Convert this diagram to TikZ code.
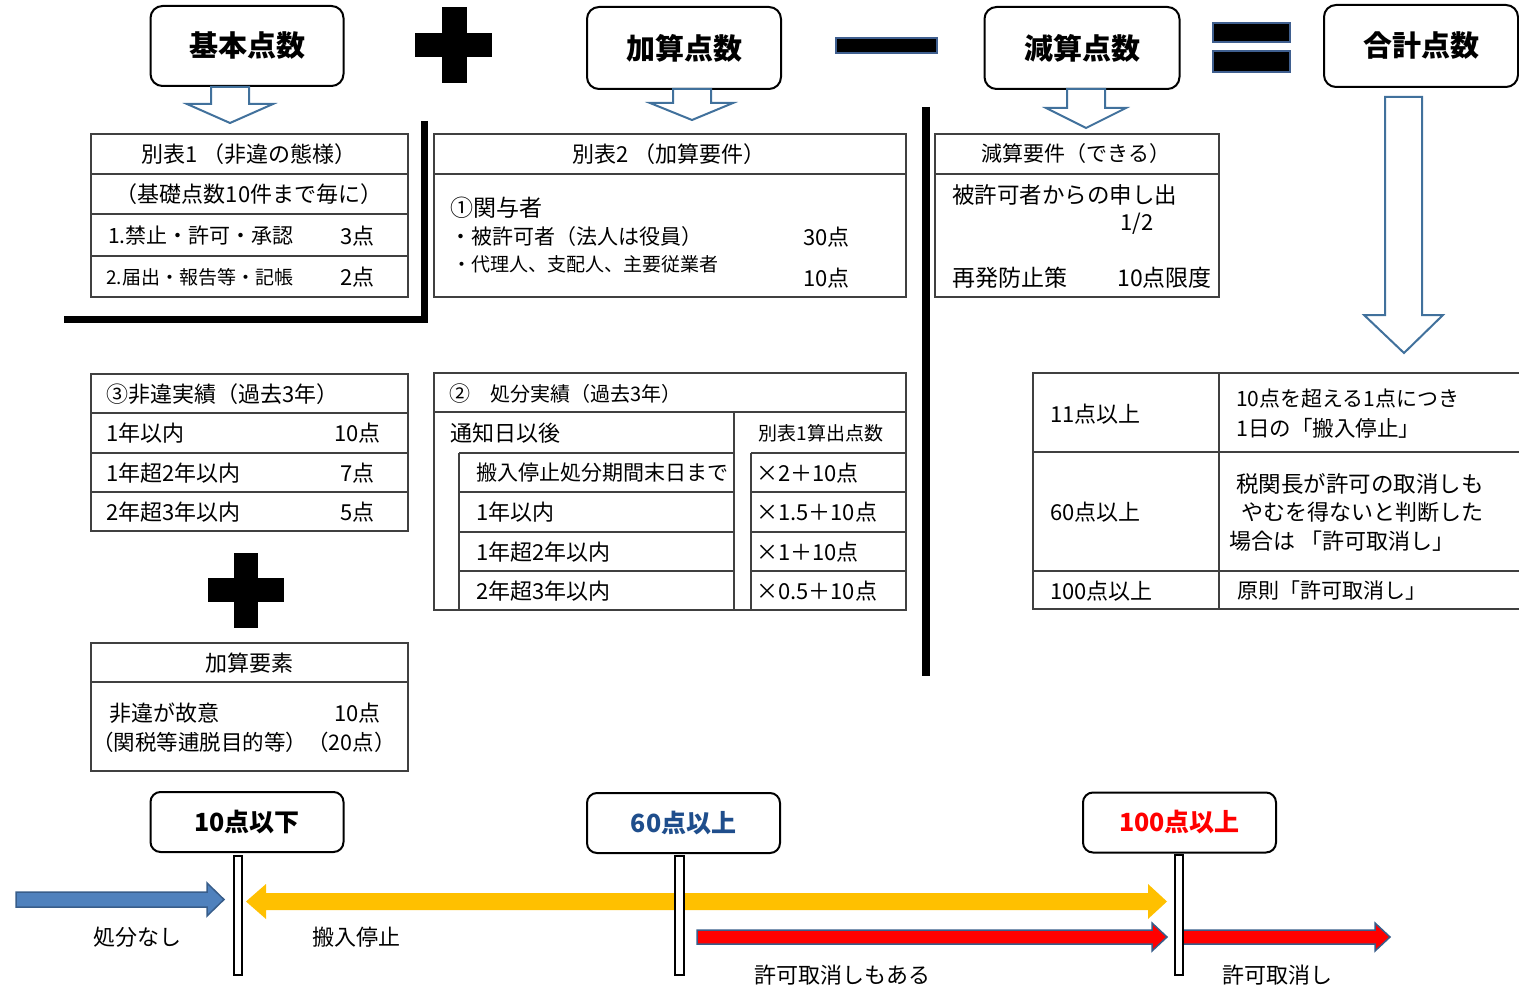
\documentclass[tikz,border=0pt]{standalone}
\usepackage{fontspec}
\setmainfont{Noto Sans CJK JP}
\definecolor{arrowblue}{HTML}{41719C}
\definecolor{boxblue}{HTML}{4F81BD}
\definecolor{boxblueedge}{HTML}{385D8A}
\definecolor{gold}{HTML}{FFC000}
\definecolor{navytext}{HTML}{1F4E8C}
\definecolor{signedge}{HTML}{3F5F8F}
\definecolor{tline}{HTML}{404040}
\newcommand{\fs}[1]{\fontsize{#1}{#1}\selectfont}
\begin{document}
\begin{tikzpicture}[x=1pt,y=-1pt,
  title/.style={draw=black, line width=2pt, rounded corners=12pt, fill=white,
    minimum width=193pt, minimum height=80pt, inner sep=0pt,
    font=\fs{29}\bfseries},
  mark box/.style={draw=black, line width=2pt, rounded corners=10pt, fill=white,
    minimum width=193pt, minimum height=60pt, inner sep=0pt,
    font=\fs{25}\bfseries},
  hollow/.style={draw=arrowblue, line width=2pt, fill=white, line join=miter},
  tab/.style={draw=tline, line width=1.5pt},
  txt/.style={font=\fs{22}, inner sep=0pt, anchor=west},
  rtxt/.style={font=\fs{22}, inner sep=0pt, anchor=east},
  ctxt/.style={font=\fs{22}, inner sep=0pt},
  pole/.style={draw=black, line width=1.5pt, fill=white},
  sign/.style={fill=black},
]
\useasboundingbox (0,0) rectangle (1519,987);

% ---------- top title boxes ----------
\node[title] (kihon) at (247,46) {基本点数};
\node[title, minimum height=82pt, minimum width=194pt] (kasan) at (684,48) {加算点数};
\node[title, minimum height=82pt, minimum width=195pt] (gensan) at (1082,48) {減算点数};
\node[title, minimum height=82pt, minimum width=194pt] (goukei) at (1421,46) {合計点数};

% operators
\fill[sign] (442,7) rectangle (467,83);
\fill[sign] (415,33) rectangle (492,57);
\filldraw[fill=black, draw=signedge, line width=1.5pt] (836,38) rectangle (937,53);
\filldraw[fill=black, draw=signedge, line width=1.5pt] (1213,23) rectangle (1290,42);
\filldraw[fill=black, draw=signedge, line width=1.5pt] (1213,51) rectangle (1290,72);

% hollow arrows
\draw[hollow] (211,87) -- (211,104) -- (187,104) -- (230,123) -- (273,104) -- (249,104) -- (249,87) -- cycle;
\draw[hollow] (673,89) -- (673,103) -- (650,103) -- (692,120) -- (733,103) -- (711,103) -- (711,89) -- cycle;
\draw[hollow] (1067,89) -- (1067,108) -- (1046,108) -- (1086,128) -- (1126,108) -- (1105,108) -- (1105,89) -- cycle;
\draw[hollow] (1385,97) -- (1385,315) -- (1364,315) -- (1404,353) -- (1443,315) -- (1422,315) -- (1422,97) -- cycle;

% thick separators
\draw[line width=7pt, line join=miter] (424.5,121) -- (424.5,319) -- (64,319);
\draw[line width=8pt] (925.5,107) -- (925.5,676);

% ---------- 別表1 ----------
\draw[tab] (91,134) rectangle (408,297);
\draw[tab] (91,174) -- (408,174);
\draw[tab] (91,214) -- (408,214);
\draw[tab] (91,256) -- (408,256);
\node[ctxt] (b1t) at (249,154) {別表1 （非違の態様）};
\node[ctxt] (b1s) at (249,194) {（基礎点数10件まで毎に）};
\node[txt, font=\fs{21}] (b1r1) at (108,236) {1.禁止・許可・承認};
\node[rtxt] (b1r1p) at (375,236) {3点};
\node[txt, font=\fs{19}] (b1r2) at (106,277) {2.届出・報告等・記帳};
\node[rtxt] (b1r2p) at (375,277) {2点};

% ---------- 別表2 ----------
\draw[tab] (434,134) rectangle (906,297);
\draw[tab] (434,174) -- (906,174);
\node[ctxt] (b2t) at (669,154) {別表2 （加算要件）};
\node[txt, font=\fs{23}] (b2a) at (450,208) {①関与者};
\node[txt, font=\fs{21}] (b2b) at (450,237) {・被許可者（法人は役員）};
\node[rtxt] (b2bp) at (850,237) {30点};
\node[txt, font=\fs{19}] (b2c) at (452,264) {・代理人、支配人、主要従業者};
\node[rtxt] (b2cp) at (850,278) {10点};

% ---------- 減算要件 ----------
\draw[tab] (935,134) rectangle (1219,297);
\draw[tab] (935,174) -- (1219,174);
\node[ctxt, font=\fs{21}] (gt) at (1076,154) {減算要件（できる）};
\node[txt, font=\fs{22.5}] (ga) at (952,195) {被許可者からの申し出};
\node[txt] (gb) at (1120,224) {1/2};
\node[txt, font=\fs{23}] (gc) at (952,278) {再発防止策};
\node[rtxt, font=\fs{23}] (gd) at (1212,278) {10点限度};

% ---------- ③ 非違実績 ----------
\draw[tab] (91,374) rectangle (408,531);
\draw[tab] (91,413) -- (408,413);
\draw[tab] (91,453) -- (408,453);
\draw[tab] (91,492) -- (408,492);
\node[txt] (h0) at (106,394) {③非違実績（過去3年）};
\node[txt] (h1) at (106,433) {1年以内};
\node[rtxt] (h1p) at (381,433) {10点};
\node[txt] (h2) at (106,473) {1年超2年以内};
\node[rtxt] (h2p) at (375,473) {7点};
\node[txt] (h3) at (106,512) {2年超3年以内};
\node[rtxt] (h3p) at (375,512) {5点};

% plus 2
\fill[sign] (234,553) rectangle (258,628);
\fill[sign] (208,578) rectangle (284,602);

% ---------- 加算要素 ----------
\draw[tab] (91,643) rectangle (408,771);
\draw[tab] (91,682) -- (408,682);
\node[ctxt] (ky) at (249,663) {加算要素};
\node[txt] (ky1) at (109,713) {非違が故意};
\node[rtxt] (ky1p) at (381,713) {10点};
\node[txt, font=\fs{21.5}] (ky2) at (92,742) {（関税等逋脱目的等）（20点）};

% ---------- ② 処分実績 ----------
\draw[tab] (434,373) rectangle (906,610);
\draw[tab] (434,412) -- (906,412);
\draw[tab] (734,412) -- (734,610);
\draw[tab] (459,453) -- (459,610);
\draw[tab] (751,453) -- (751,610);
\foreach \yy in {453,492,532,571}{
  \draw[tab] (459,\yy) -- (734,\yy);
  \draw[tab] (751,\yy) -- (906,\yy);
}
\node[txt, font=\fs{21}] (s0) at (449,394) {②};
\node[txt, font=\fs{20}] (s0b) at (490,394) {処分実績（過去3年）};
\node[txt] (s1) at (450,433) {通知日以後};
\node[font=\fs{19}, inner sep=0pt] (s1r) at (821,433) {別表1算出点数};
\node[txt, font=\fs{21}] (s2) at (476,473) {搬入停止処分期間末日まで};
\node[txt] (s3) at (476,512) {1年以内};
\node[txt] (s4) at (476,552) {1年超2年以内};
\node[txt] (s5) at (476,591) {2年超3年以内};
\node[txt] (s2r) at (756,473) {×2＋10点};
\node[txt] (s3r) at (756,512) {×1.5＋10点};
\node[txt] (s4r) at (756,552) {×1＋10点};
\node[txt] (s5r) at (756,591) {×0.5＋10点};

% ---------- result table ----------
\draw[tab] (1519,373) -- (1033,373) -- (1033,609) -- (1519,609);
\draw[tab] (1219,373) -- (1219,609);
\draw[tab] (1033,452) -- (1519,452);
\draw[tab] (1033,571) -- (1519,571);
\node[txt] (r1) at (1050,414) {11点以上};
\node[txt, font=\fs{21}] (r1a) at (1236,399) {10点を超える1点につき};
\node[txt, font=\fs{21.5}] (r1b) at (1236,428) {1日の「搬入停止」};
\node[txt] (r2) at (1050,512) {60点以上};
\node[txt, font=\fs{22.5}] (r2a) at (1236,484) {税関長が許可の取消しも};
\node[txt] (r2b) at (1241,512) {やむを得ないと判断した};
\node[txt] (r2c) at (1229,541) {場合は 「許可取消し」};
\node[txt] (r3) at (1050,591) {100点以上};
\node[txt, font=\fs{21}] (r3a) at (1237,591) {原則「許可取消し」};

% ---------- timeline ----------
\filldraw[fill=boxblue, draw=boxblueedge, line width=1.5pt]
  (16,892) -- (207,892) -- (207,883) -- (224,899.5) -- (207,916) -- (207,907) -- (16,907) -- cycle;
\fill[gold]
  (246,901.5) -- (266,884) -- (266,893) -- (1148,893) -- (1148,884) -- (1167,901.5)
  -- (1148,919) -- (1148,910) -- (266,910) -- (266,919) -- cycle;
\filldraw[fill=red, draw=boxblueedge, line width=1.5pt]
  (697,930) -- (1152,930) -- (1152,923) -- (1167,937) -- (1152,951) -- (1152,944) -- (697,944) -- cycle;
\filldraw[fill=red, draw=boxblueedge, line width=1.5pt]
  (1183,930) -- (1375,930) -- (1375,923) -- (1390,937) -- (1375,951) -- (1375,944) -- (1183,944) -- cycle;

\draw[pole] (234,856) rectangle (242,975);
\draw[pole] (675,856) rectangle (684,975);
\draw[pole] (1175,855) rectangle (1183,975);

\node[mark box] (m10) at (247,822) {10点以下};
\node[mark box, text=navytext] (m60) at (683.5,823) {60点以上};
\node[mark box, text=red] (m100) at (1179.5,822.5) {100点以上};

\node[txt] (l1) at (93,937) {処分なし};
\node[txt] (l2) at (312,937) {搬入停止};
\node[txt] (l3) at (754,975) {許可取消しもある};
\node[txt] (l4) at (1222,975) {許可取消し};
\end{tikzpicture}
\end{document}
